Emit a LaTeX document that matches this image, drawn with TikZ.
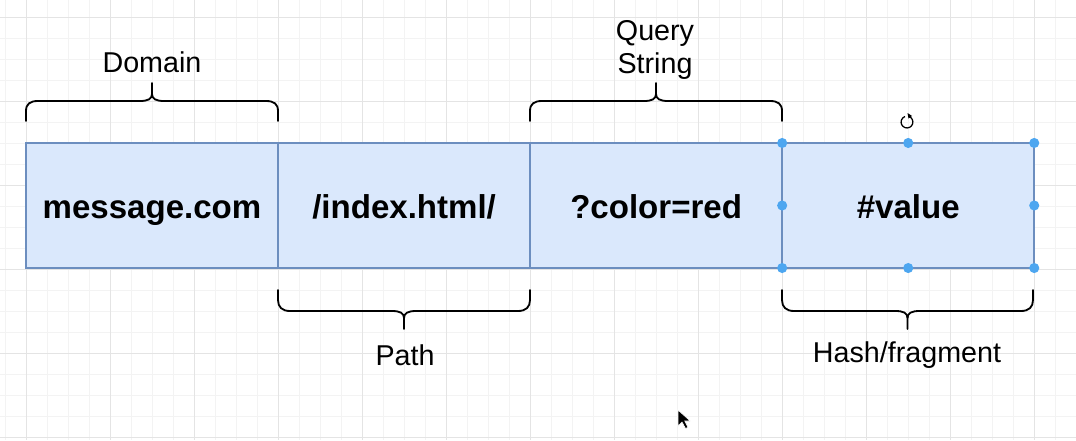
\documentclass[tikz,border=0pt]{standalone}
\usepackage{fontspec}
\setmainfont{Liberation Sans}
\usetikzlibrary{positioning,arrows.meta}

\definecolor{boxfill}{HTML}{DAE8FC}
\definecolor{boxline}{HTML}{6C8EBF}
\definecolor{handle}{HTML}{4DA6F0}
\definecolor{gridminor}{HTML}{F3F3F3}
\definecolor{gridmajor}{HTML}{E4E4E4}

\tikzset{
  part/.style={draw=boxline, fill=boxfill, line width=1.4pt, outer sep=0pt, inner sep=0pt,
    minimum width=6.3cm, minimum height=3.125cm, text height=18pt, text depth=0pt,
    font=\bfseries\fontsize{23.5}{28}\selectfont},
  lbl/.style={align=center, inner sep=0pt, font=\fontsize{20.4}{24}\selectfont},
  brace/.style={line width=1.3pt, line cap=round, line join=round}
}

\begin{document}
\begin{tikzpicture}[x=0.025cm,y=-0.025cm]

\useasboundingbox (0,0) rectangle (1076,440);
\fill[white] (0,0) rectangle (1076,440);

% grid
\foreach \gx in {5,26,...,1076}
    \draw[gridminor, line width=0.6pt] (\gx,0) -- (\gx,440);
\foreach \gy in {-4,17,...,440}
    \draw[gridminor, line width=0.6pt] (0,\gy) -- (1076,\gy);
\foreach \gx in {26,110,...,1076}
    \draw[gridmajor, line width=0.6pt] (\gx,0) -- (\gx,440);
\foreach \gy in {17,101,...,440}
    \draw[gridmajor, line width=0.6pt] (0,\gy) -- (1076,\gy);

% the four parts of the url
\node[part] (domain) at (152,205.5) {message.com};
\node[part, right=0pt of domain] (path) {/index.html/};
\node[part, right=0pt of path] (query) {?color=red};
\node[part, right=0pt of query] (hash) {\#value};

% braces above
\foreach \l/\r in {26/278, 530/782} {
    \pgfmathsetmacro\c{(\l+\r)/2}
    \draw[brace] (\l,121) -- (\l,111) .. controls (\l,104) and (\l+4,101) .. (\l+12,101)
        -- (\c-12,101) .. controls (\c-4,101) and (\c,99) .. (\c,94) -- (\c,83);
    \draw[brace] (\r,121) -- (\r,111) .. controls (\r,104) and (\r-4,101) .. (\r-12,101)
        -- (\c+12,101) .. controls (\c+4,101) and (\c,99) .. (\c,94);
}

% braces below
\foreach \l/\r in {278/530, 782/1033} {
    \pgfmathsetmacro\c{(\l+\r)/2}
    \draw[brace] (\l,290) -- (\l,300) .. controls (\l,307) and (\l+4,311) .. (\l+12,311)
        -- (\c-12,311) .. controls (\c-4,311) and (\c,313) .. (\c,318) -- (\c,329);
    \draw[brace] (\r,290) -- (\r,300) .. controls (\r,307) and (\r-4,311) .. (\r-12,311)
        -- (\c+12,311) .. controls (\c+4,311) and (\c,313) .. (\c,318);
}

\node[lbl] (domainlbl) at (152,62) {Domain};
\node[lbl] (querylbl) at (655,50) {Query\\String};
\node[lbl] (pathlbl) at (405,355) {Path};
\node[lbl] (hashlbl) at (907,355) {Hash/fragment};

% selection handles
\foreach \a in {north west,north,north east,west,east,south west,south,south east}
    \fill[handle] (hash.\a) circle (3.6pt);

% rotate handle
\coordinate (rot) at (907,122);
\draw[line width=0.9pt] (rot) ++(2,-5.5) arc[start angle=70, end angle=-250, radius=4.2pt];
\fill (rot) ++(0.5,-9) -- ++(4.5,3) -- ++(-3.5,2.5) -- cycle;

% mouse pointer
\coordinate (cur) at (678,410);
\fill[black, draw=white, line width=0.4pt] (cur) -- ++(0,16) -- ++(4,-4) -- ++(3.5,6.5)
    -- ++(2.5,-1.2) -- ++(-3.3,-6.3) -- ++(5.5,0) -- cycle;

\end{tikzpicture}
\end{document}
